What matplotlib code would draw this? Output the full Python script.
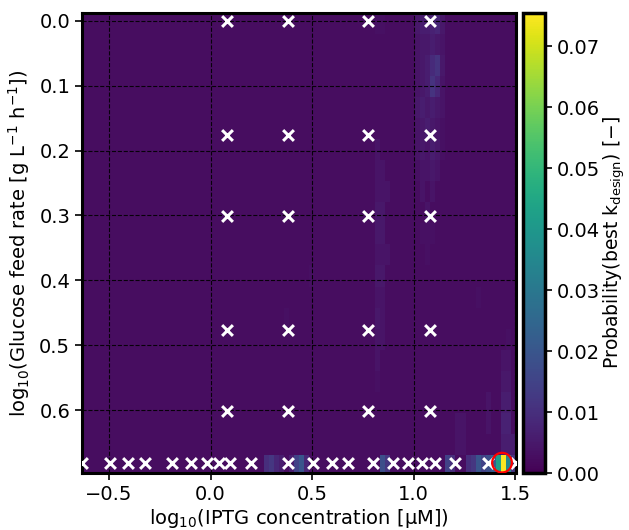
import numpy as np
import matplotlib
matplotlib.use("Agg")
import matplotlib.pyplot as plt

# axis extents of the heatmap (log10 units)
x_lo, x_hi = -0.633, 1.505
y_top, y_split, y_bot = -0.012, 0.669, 0.697
n_cols = 86
n_rows_upper = 21

# probability levels in units of 0.001, baseline elsewhere
base_upper = 2.5
upper_hot = {
    0: {58: 3, 59: 3, 66: 5, 67: 6, 68: 6, 69: 7, 70: 8, 71: 5},
    1: {66: 4, 67: 5, 68: 5, 69: 6, 70: 5, 71: 4},
    2: {66: 4, 67: 5, 68: 6, 69: 9, 70: 11, 71: 5},
    3: {66: 4, 67: 5, 68: 6, 69: 11, 70: 8, 71: 4},
    4: {66: 5, 67: 6, 68: 5, 69: 6, 70: 5, 71: 4},
    5: {66: 4, 67: 5, 68: 6, 69: 5, 70: 4, 71: 3},
    6: {58: 4, 66: 4, 67: 5, 68: 4, 69: 6, 70: 5, 71: 3},
    7: {58: 4, 59: 4, 66: 3, 67: 4, 68: 4, 69: 5, 70: 4},
    8: {58: 4, 59: 4, 60: 4, 67: 4, 69: 4},
    9: {58: 5, 59: 5, 68: 4},
    10: {58: 5, 59: 5, 67: 3, 68: 3, 69: 3},
    11: {58: 4, 59: 4, 60: 4, 68: 3},
    12: {58: 5, 59: 5, 45: 3},
    13: {58: 4, 59: 4, 78: 3},
    14: {58: 5, 59: 4, 40: 3},
    15: {58: 4, 59: 4, 84: 3},
    16: {58: 4, 83: 4, 84: 4},
    17: {58: 3, 83: 5, 84: 5},
    18: {80: 4, 83: 6, 84: 6},
    19: {74: 4, 75: 4, 80: 4, 83: 7, 84: 7},
    20: {74: 4, 75: 4, 83: 6, 84: 6, 85: 6},
}
base_bottom = 2.5
bottom_hot = {36: 10, 37: 12, 38: 8, 39: 6, 41: 6, 42: 15, 43: 20, 44: 8,
              59: 18, 60: 12, 72: 15, 73: 10, 76: 10, 77: 12, 78: 20,
              79: 15, 80: 18, 81: 22, 82: 42, 83: 75, 84: 35, 85: 12}

# evaluated designs
grid_iptg = [0.079, 0.380, 0.778, 1.079]
grid_glc = [0.0, 0.176, 0.301, 0.477, 0.602]
row_iptg = [-0.633, -0.495, -0.406, -0.323, -0.190, -0.096, -0.015, 0.044,
            0.094, 0.197, 0.382, 0.505, 0.599, 0.677, 0.800, 0.899, 0.973,
            1.042, 1.106, 1.204, 1.367, 1.505]
row_glc = 0.681
best_iptg, best_glc = 1.436, 0.681

# build probability grid
z = np.full((n_rows_upper + 1, n_cols), base_upper)
for r, cells in upper_hot.items():
    for c, v in cells.items():
        z[r, c] = v
z[-1, :] = base_bottom
for c, v in bottom_hot.items():
    z[-1, c] = v
z = z / 1000.0

x_edges = np.linspace(x_lo, x_hi, n_cols + 1)
y_edges = np.append(np.linspace(y_top, y_split, n_rows_upper + 1), y_bot)

fig = plt.figure(figsize=(6.29, 5.30), dpi=100)
ax = fig.add_axes([0.1304, 0.1075, 0.690, 0.868])
cax = fig.add_axes([0.8315, 0.1075, 0.035, 0.868])

mesh = ax.pcolormesh(x_edges, y_edges, z, cmap="viridis", vmin=0, vmax=0.0755)

gx, gy = np.meshgrid(grid_iptg, grid_glc)
ax.scatter(gx.ravel(), gy.ravel(), marker="x", color="white", s=60, linewidths=2.2, zorder=3)
ax.scatter(row_iptg, [row_glc] * len(row_iptg), marker="x", color="white", s=60,
           linewidths=2.2, zorder=3)
ax.scatter([best_iptg], [best_glc], marker="o", facecolors="none", edgecolors="red",
           s=200, linewidths=1.6, zorder=4)

ax.set_xlim(x_lo, x_hi)
ax.set_ylim(y_bot, y_top)
ax.set_xticks([-0.5, 0.0, 0.5, 1.0, 1.5])
ax.set_yticks([0.0, 0.1, 0.2, 0.3, 0.4, 0.5, 0.6])
ax.grid(True, color="black", linestyle="--", linewidth=0.8, alpha=0.9)
ax.tick_params(labelsize=14, width=1.2, length=5)
for s in ax.spines.values():
    s.set_linewidth(2.2)

ax.set_xlabel("log$_{10}$(IPTG concentration [μM])", fontsize=14, labelpad=2)
ax.set_ylabel("log$_{10}$(Glucose feed rate [g L$^{-1}$ h$^{-1}$])", fontsize=14, labelpad=5)

cb = fig.colorbar(mesh, cax=cax)
cb.set_ticks([0.0, 0.01, 0.02, 0.03, 0.04, 0.05, 0.06, 0.07])
cb.ax.tick_params(labelsize=14, width=1.2, length=5)
cb.outline.set_linewidth(2.5)
cb.set_label("Probability(best k$_{\\mathrm{design}}$) [−]", fontsize=13.5, labelpad=1)

fig.savefig("out.png", dpi=100)
